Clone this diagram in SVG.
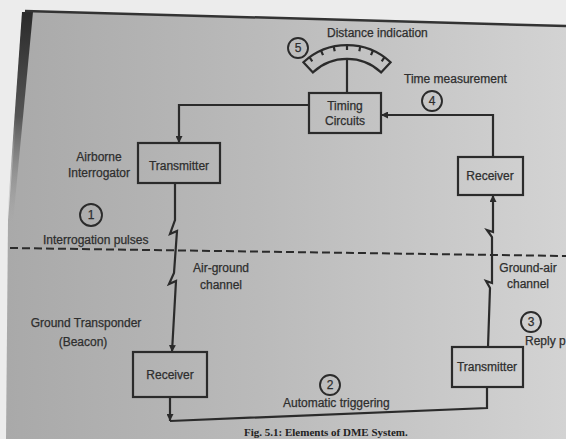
<svg xmlns="http://www.w3.org/2000/svg" width="566" height="439" viewBox="0 0 566 439">
<defs>
<linearGradient id="page" x1="0" y1="0" x2="1" y2="0">
<stop offset="0" stop-color="#a9a9a9"/>
<stop offset="0.45" stop-color="#bababa"/>
<stop offset="1" stop-color="#d3d3d3"/>
</linearGradient>
<linearGradient id="edge" x1="0" y1="0" x2="0" y2="1">
<stop offset="0" stop-color="#2a2a2a"/>
<stop offset="0.5" stop-color="#555"/>
<stop offset="1" stop-color="#999" stop-opacity="0"/>
</linearGradient>
<marker id="arr" viewBox="0 0 10 10" refX="10" refY="5" markerWidth="7" markerHeight="7" markerUnits="userSpaceOnUse" orient="auto">
<path d="M0,0 L10,5 L0,10 Z" fill="#2b2b2b"/>
</marker>
</defs>
<style>
.ln{fill:none;stroke:#2b2b2b;stroke-width:2.2;stroke-linejoin:miter}
.box{fill:none;stroke:#2b2b2b;stroke-width:2.2}
.t{font-family:"Liberation Sans",Arial,sans-serif;font-size:12px;fill:#2e2e2e;stroke:#2e2e2e;stroke-width:0.25}
.c{text-anchor:middle}
.num{fill:none;stroke:#2b2b2b;stroke-width:1.9}
.cap{font-family:"Liberation Serif","Times New Roman",serif;font-size:11px;font-weight:bold;fill:#222}
</style>
<rect width="566" height="439" fill="#ececec"/>
<polygon points="25,11 566,26 566,439 6,439 8,220" fill="url(#page)"/>
<polygon points="22,12 33,12 13,222 7,222" fill="url(#edge)"/>
<line x1="25" y1="11" x2="566" y2="26" stroke="#333" stroke-width="2.5"/>
<g id="connectors">
<path class="ln" d="M309,105 H179 V143" marker-end="url(#arr)"/>
<path class="ln" d="M493,157 V115 H381" marker-end="url(#arr)"/>
<path class="ln" d="M175,183 L175,220 L170,234 L177,231 L174,273 L169,284 L176,281 L172,352" marker-end="url(#arr)"/>
<path class="ln" d="M488,347 L490,288 L486,281 L492,283 L492,237 L487,230 L493,232 L493,195" marker-end="url(#arr)"/>
<path class="ln" d="M170,397 L170,421" marker-end="url(#arr)"/>
<path class="ln" d="M170,421 L487,408 L487,387"/>
<path d="M10,248 L566,256" fill="none" stroke="#2b2b2b" stroke-width="2" stroke-dasharray="8 4"/>
</g>
<g id="meter">
<path class="box" d="M303.4,62.2 A64,64 0 0 1 390.6,62.2 L381.1,72.4 A50,50 0 0 0 312.9,72.4 Z"/>
<path class="ln" stroke-width="1.5" d="M309.4,57.2 L312.3,61.3 M321,50.5 L323,55.1 M333.7,46.4 L334.7,51.3 M347,45 L347,50 M360.3,46.4 L359.3,51.3 M373,50.5 L371,55.1 M384.6,57.2 L381.7,61.3"/>
<path class="ln" d="M347,59 V93"/>
<circle class="num" cx="298" cy="48" r="10"/>
<text class="t c" x="298" y="52" font-size="11">5</text>
<text class="t" x="327" y="37">Distance indication</text>
</g>
<g id="timing">
<rect class="box" x="309" y="93" width="72" height="40"/>
<text class="t c" x="345" y="110" font-size="11">Timing</text>
<text class="t c" x="345" y="125" font-size="11">Circuits</text>
</g>
<g id="time-label">
<text class="t" x="404" y="83" font-size="11">Time measurement</text>
<circle class="num" cx="432" cy="101" r="10"/>
<text class="t c" x="432" y="105" font-size="11">4</text>
</g>
<g id="tx-air">
<rect class="box" x="138" y="143" width="82" height="40"/>
<text class="t c" x="179" y="170" font-size="12.5">Transmitter</text>
</g>
<g id="interrogator-label">
<text class="t c" x="99" y="161">Airborne</text>
<text class="t c" x="99" y="177">Interrogator</text>
<circle class="num" cx="91" cy="215" r="11"/>
<text class="t c" x="91" y="219" font-size="11">1</text>
<text class="t" x="43" y="244" font-size="12.5">Interrogation pulses</text>
</g>
<g id="rx-air">
<rect class="box" x="458" y="157" width="65" height="38"/>
<text class="t c" x="490" y="180" font-size="11">Receiver</text>
</g>
<g id="channel-labels">
<text class="t c" x="221" y="272" font-size="12.5">Air-ground</text>
<text class="t c" x="221" y="289" font-size="12.5">channel</text>
<text class="t c" x="528" y="272" font-size="10">Ground-air</text>
<text class="t c" x="528" y="288" font-size="10">channel</text>
</g>
<g id="transponder-label">
<text class="t c" x="86" y="327" font-size="12.5">Ground Transponder</text>
<text class="t c" x="83" y="346" font-size="12.5">(Beacon)</text>
</g>
<g id="rx-ground">
<rect class="box" x="133" y="352" width="74" height="45"/>
<text class="t c" x="170" y="379" font-size="13">Receiver</text>
</g>
<g id="tx-ground">
<rect class="box" x="452" y="347" width="71" height="40"/>
<text class="t c" x="487" y="371" font-size="10">Transmitter</text>
</g>
<g id="reply-label">
<circle class="num" cx="531" cy="322" r="10"/>
<text class="t c" x="531" y="326" font-size="11">3</text>
<text class="t" x="525" y="345" font-size="10.5">Reply p</text>
</g>
<g id="trigger-label">
<circle class="num" cx="330" cy="385" r="10"/>
<text class="t c" x="330" y="389" font-size="11">2</text>
<text class="t" x="283" y="407">Automatic triggering</text>
</g>
<text class="cap" x="244" y="436">Fig. 5.1: Elements of DME System.</text>
</svg>
